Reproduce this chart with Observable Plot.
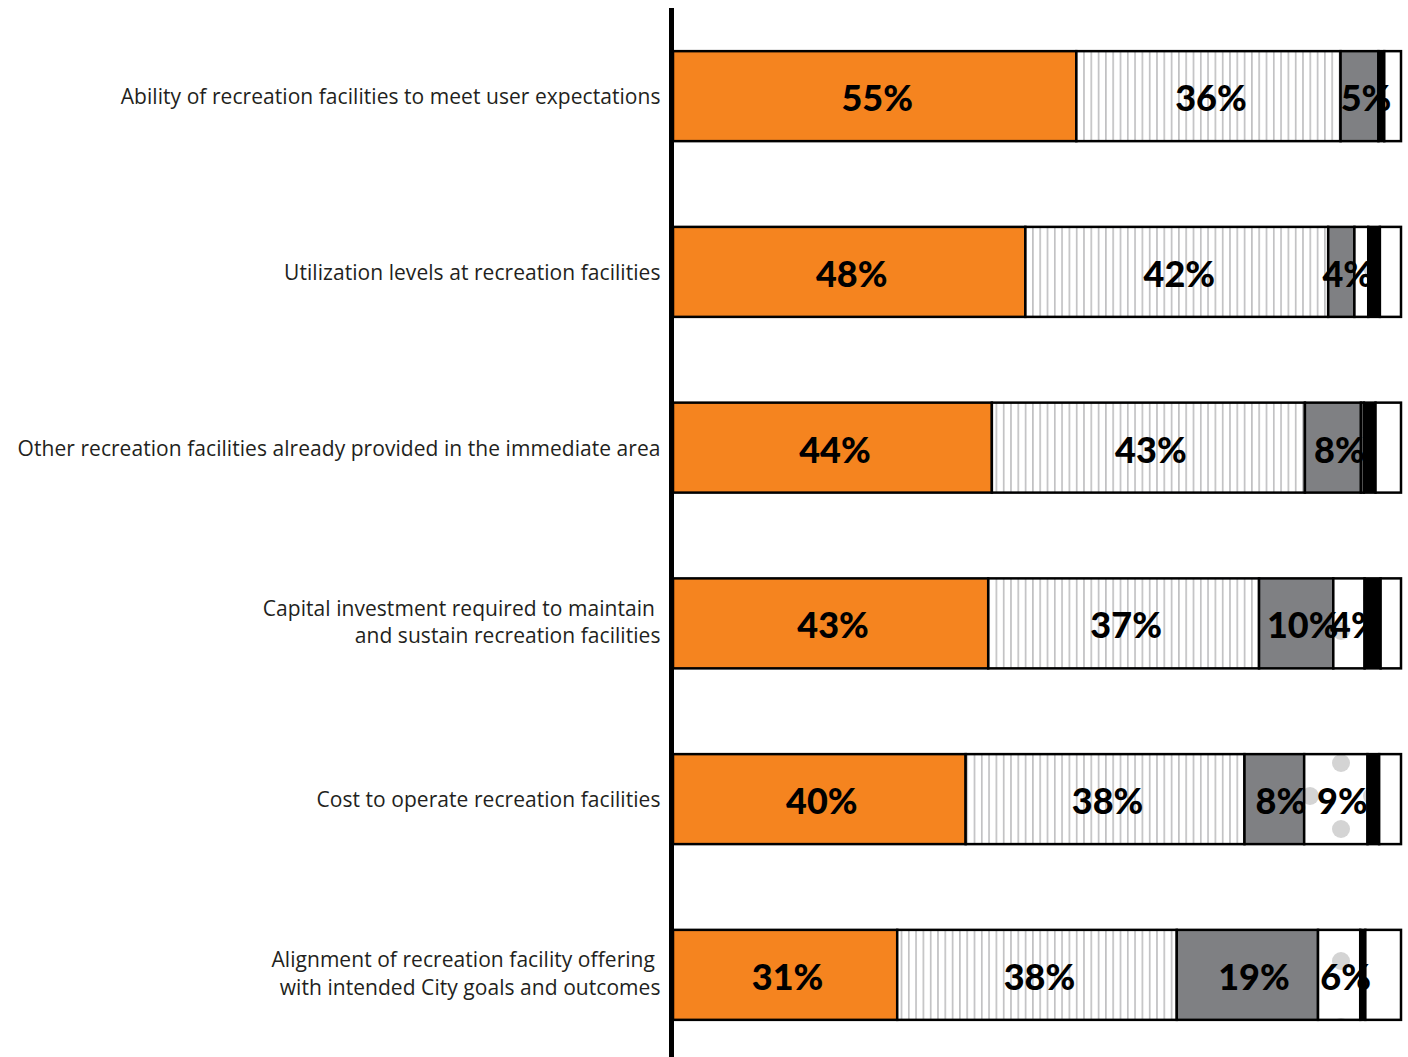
<!DOCTYPE html>
<html>
<head>
<meta charset="utf-8">
<script src="https://cdn.jsdelivr.net/npm/d3@7"></script>
<script src="https://cdn.jsdelivr.net/npm/@observablehq/plot@0.6"></script>
<style>
  html, body { margin: 0; padding: 0; background: #fff; }
  #chart svg { display: block; }
</style>
</head>
<body>
<div id="chart"></div>
<script>
// Questions (top to bottom)
const questions = [
  "Ability of recreation facilities to meet user expectations",
  "Utilization levels at recreation facilities",
  "Other recreation facilities already provided in the immediate area",
  "Capital investment required to maintain\u00a0\nand sustain recreation facilities",
  "Cost to operate recreation facilities",
  "Alignment of recreation facility offering\u00a0\nwith intended City goals and outcomes"
];

// Response categories (left to right)
const series = ["Very important", "Somewhat important", "Not very important", "Not at all important", "Unsure", "No response"];

// Percent values per series, one per question
const veryImportant     = [55.4, 48.4, 43.8, 43.3, 40.2, 30.8];
const somewhatImportant = [36.3, 41.6, 43.0, 37.2, 38.3, 38.4];
const notVeryImportant  = [5.2, 3.6, 7.7, 10.2, 8.2, 19.4];
const notAtAllImportant = [0.0, 1.9, 0.4, 4.3, 8.7, 5.8];
const unsure            = [0.8, 1.6, 1.6, 2.2, 1.6, 0.7];
const noResponse        = [2.3, 2.9, 3.5, 2.8, 3.0, 4.9];

const seriesValues = [veryImportant, somewhatImportant, notVeryImportant, notAtAllImportant, unsure, noResponse];
const fills = ["#f5841f", "url(#stripes)", "#7f8083", "url(#dots)", "#000000", "#ffffff"];

const data = [];
questions.forEach((q, i) => {
  series.forEach((s, j) => {
    data.push({question: q, series: s, idx: j, value: seriesValues[j][i]});
  });
});

const stackOpts = {x: "value", y: "question", z: "series", order: null};

const labelA = d => d.idx <= 1 ? `${Math.round(d.value)}%` : "";
const labelB = d => (d.idx === 2 || (d.idx === 3 && d.value >= 3.5)) ? `${Math.round(d.value)}%` : "";

const singleLine = questions.filter(q => !q.includes("\n"));
const multiLine = questions.filter(q => q.includes("\n"));
const axisStyle = {tickSize: 0, tickPadding: 13, fontSize: 21, fontWeight: 400, lineHeight: 1.3, fill: "#231f20", label: null};

const plot = Plot.plot({
  width: 1408,
  height: 1057,
  marginLeft: 673,
  marginRight: 7,
  marginTop: 16,
  marginBottom: 2,
  style: {fontFamily: "'Open Sans', Lato, sans-serif", color: "#231f20", background: "#fff"},
  x: {domain: [0, 100], axis: null},
  y: {domain: questions, paddingInner: 0.488, paddingOuter: 0.2, round: false, label: null},
  color: {domain: series, range: fills},
  marks: [
    Plot.barX(data, Plot.stackX({...stackOpts, fill: "series", stroke: "#000", strokeWidth: 2.5})),
    Plot.text(data, Plot.stackX({...stackOpts, text: labelA, fontFamily: "Lato, sans-serif", fontSize: 36, fontWeight: 900, fill: "#000", dx: 2, dy: 3})),
    Plot.text(data, Plot.stackX({...stackOpts, text: labelB, fontFamily: "Lato, sans-serif", fontSize: 36, fontWeight: 900, fill: "#000", dx: 6, dy: 3})),
    Plot.barX(data, Plot.stackX({...stackOpts, fill: "#000", fillOpacity: d => d.idx === 4 ? 1 : 0, stroke: "none"})),
    Plot.axisY(singleLine, {...axisStyle, dy: -1}),
    Plot.axisY(multiLine, {...axisStyle, dy: -3}),
    Plot.ruleX([0], {stroke: "#000", strokeWidth: 5, dx: -2, insetTop: -8, insetBottom: -2})
  ]
});

// pattern definitions
const svg = d3.select(plot);
svg.selectAll('g[aria-label="y-axis tick label"]').style("letter-spacing", "0.05px");
const defs = svg.insert("defs", ":first-child");
const stripes = defs.append("pattern")
  .attr("id", "stripes").attr("patternUnits", "userSpaceOnUse")
  .attr("width", 7.3).attr("height", 10);
stripes.append("rect").attr("width", 7.3).attr("height", 10).attr("fill", "#fff");
stripes.append("rect").attr("x", 3).attr("width", 1.2).attr("height", 10).attr("fill", "#a9a9ab");

const dots = defs.append("pattern")
  .attr("id", "dots").attr("patternUnits", "userSpaceOnUse")
  .attr("x", 39).attr("y", 37).attr("width", 62).attr("height", 66);
dots.append("rect").attr("width", 62).attr("height", 66).attr("fill", "#fff");
[[0,0],[62,0],[0,66],[62,66],[31,33]].forEach(([cx, cy]) =>
  dots.append("circle").attr("cx", cx).attr("cy", cy).attr("r", 9).attr("fill", "#d4d4d4"));

document.getElementById("chart").appendChild(plot);
</script>
</body>
</html>
